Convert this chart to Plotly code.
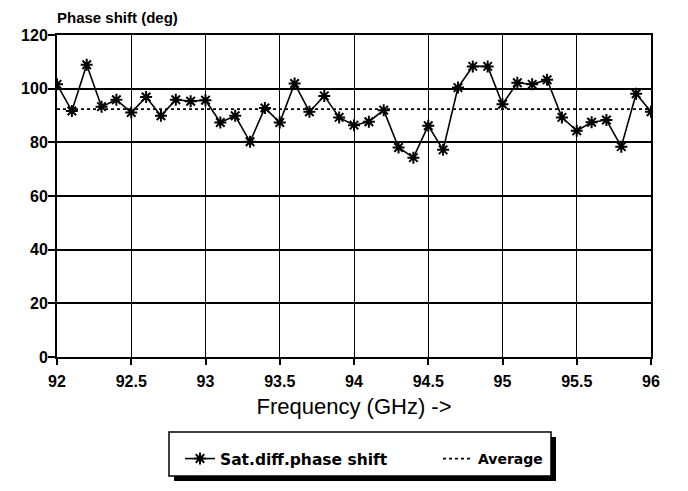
import plotly.graph_objects as go

# ---- data ----
freq = [92.0, 92.1, 92.2, 92.3, 92.4, 92.5, 92.6, 92.7, 92.8, 92.9,
        93.0, 93.1, 93.2, 93.3, 93.4, 93.5, 93.6, 93.7, 93.8, 93.9,
        94.0, 94.1, 94.2, 94.3, 94.4, 94.5, 94.6, 94.7, 94.8, 94.9,
        95.0, 95.1, 95.2, 95.3, 95.4, 95.5, 95.6, 95.7, 95.8, 95.9,
        96.0]
phase = [101.6, 91.7, 108.9, 93.3, 95.9, 91.1, 96.9, 89.9, 95.9, 95.3,
         95.7, 87.4, 89.9, 80.2, 92.8, 87.4, 101.9, 91.4, 97.3, 89.3,
         86.4, 87.7, 92.0, 78.1, 74.3, 86.2, 77.2, 100.4, 108.3, 108.3,
         94.2, 102.2, 101.6, 103.3, 89.3, 84.3, 87.5, 88.3, 78.4, 98.1,
         91.4]
average = [92.4, 92.4]
avg_freq = [92.0, 96.0]
x_ticks = [92, 92.5, 93, 93.5, 94, 94.5, 95, 95.5, 96]
x_tick_labels = ["92", "92.5", "93", "93.5", "94", "94.5", "95", "95.5", "96"]
y_ticks = [0, 20, 40, 60, 80, 100, 120]

# ---- layout geometry (pixels) ----
W, H = 688, 491
L, R, T, B = 49, 45, 27, 142
PW, PH = W - L - R, H - T - B


def px_x(p):
    return (p - L) / PW


def px_y(p):
    return (H - B - p) / PH


TICKFONT = dict(family="Liberation Sans", size=16, color="black", weight="bold")
LEGFONT = dict(family="DejaVu Sans", size=14, color="black", weight="bold")

fig = go.Figure()
fig.add_trace(go.Scatter(
    x=freq, y=phase, mode="lines+markers", name="Sat.diff.phase shift",
    legend="legend",
    line=dict(color="black", width=1.6),
    marker=dict(symbol="asterisk-open", size=10, color="black",
                line=dict(color="black", width=2)),
))
fig.add_trace(go.Scatter(
    x=avg_freq, y=average, mode="lines", name="Average",
    legend="legend2",
    line=dict(color="black", width=1.8, dash="3px,3px"),
))

# legend box with drop shadow
box_l, box_r, box_t, box_b = 161, 543, 424, 468
fig.add_shape(type="rect", xref="paper", yref="paper",
              x0=px_x(box_l + 5), x1=px_x(box_r + 5),
              y0=px_y(box_b + 5), y1=px_y(box_t + 5),
              fillcolor="black", line=dict(width=0), layer="above")
fig.add_shape(type="rect", xref="paper", yref="paper",
              x0=px_x(box_l), x1=px_x(box_r), y0=px_y(box_b), y1=px_y(box_t),
              fillcolor="white", line=dict(color="black", width=1.5),
              layer="above")

fig.add_annotation(text="Phase shift (deg)", xref="paper", yref="paper",
                   x=px_x(L - 2), y=px_y(T - 17), xanchor="left",
                   yanchor="middle", showarrow=False,
                   font=dict(family="Liberation Sans", size=15,
                             color="black", weight="bold"))

leg_common = dict(orientation="h", xanchor="left", yanchor="middle",
                  y=px_y(451), bgcolor="rgba(0,0,0,0)", borderwidth=0,
                  itemwidth=30)

fig.update_layout(
    width=W, height=H,
    margin=dict(l=L, r=R, t=T, b=B, pad=0),
    paper_bgcolor="white", plot_bgcolor="white",
    showlegend=True,
    legend=dict(leg_common, x=px_x(172), font=dict(LEGFONT, size=15.5)),
    legend2=dict(leg_common, x=px_x(430), font=LEGFONT),
    xaxis=dict(range=[92, 96], tickvals=x_ticks, ticktext=x_tick_labels,
               showgrid=True, gridcolor="black", gridwidth=1.2,
               showline=True, linecolor="black", linewidth=2, mirror=True,
               ticks="outside", ticklen=6, tickcolor="black", tickwidth=1.5,
               tickfont=TICKFONT, ticklabelstandoff=3, zeroline=False,
               title=dict(text="Frequency (GHz) ->",
                          font=dict(family="Liberation Sans", size=22,
                                    color="black"),
                          standoff=9)),
    yaxis=dict(range=[0, 120], tickvals=y_ticks,
               showgrid=True, gridcolor="black", gridwidth=1.6,
               showline=True, linecolor="black", linewidth=2, mirror=True,
               ticks="outside", ticklen=7, tickcolor="black", tickwidth=1.5,
               tickfont=TICKFONT, ticklabelstandoff=-3, zeroline=False),
)

fig.write_html("out.html")
